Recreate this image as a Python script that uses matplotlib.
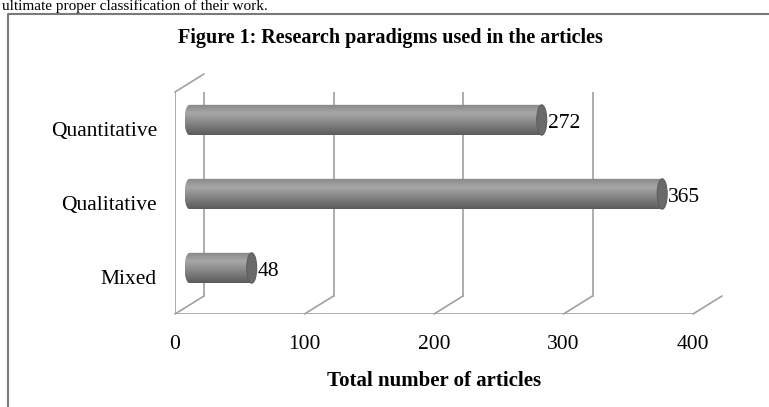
import numpy as np
import matplotlib.pyplot as plt
from matplotlib.transforms import ScaledTranslation
from matplotlib.path import Path
from matplotlib.patches import PathPatch, Ellipse, ConnectionPatch
from matplotlib.lines import Line2D

plt.rcParams['font.family'] = ['Liberation Serif', 'DejaVu Serif']

# datos
categorias = ['Mixed', 'Qualitative', 'Quantitative']
articulos = [48, 365, 272]
marcas_x = [0, 100, 200, 300, 400]
titulo = 'Figure 1: Research paradigms used in the articles'
etiqueta_x = 'Total number of articles'

W, H = 769, 407
fig = plt.figure(figsize=(W / 100, H / 100), dpi=100)

# plano frontal del grafico (en pixeles de la imagen)
x0, x1, y_suelo, y_techo = 175, 693, 314, 92
ax = fig.add_axes([x0 / W, (H - y_suelo) / H, (x1 - x0) / W, (y_suelo - y_techo) / H])
ax.patch.set_alpha(0)
for s in ax.spines.values():
    s.set_visible(False)

def desplaza(dx, dy):
    return ax.transData + ScaledTranslation(dx / 100, dy / 100, fig.dpi_scale_trans)

fondo = desplaza(29, 18)    # pared del fondo
medio = desplaza(14.5, 9)   # profundidad de las barras
gris = '#a0a0a0'
lw = 1.2

# pared del fondo y suelo
for t in marcas_x:
    ax.plot([t, t], [-0.5, 2.5], transform=fondo, color=gris, lw=lw, zorder=1)
    ax.add_artist(ConnectionPatch((t, -0.5), (t, -0.5), ax.transData, fondo,
                                  color=gris, lw=lw, zorder=1))
ax.plot([0, 400], [-0.5, -0.5], color=gris, lw=lw, zorder=1)
# pared izquierda
ax.plot([0, 0], [-0.5, 2.5], color=gris, lw=lw, zorder=1)
ax.add_artist(ConnectionPatch((0, 2.5), (0, 2.5), ax.transData, fondo,
                              color=gris, lw=lw, zorder=1))

# cilindros
alto = 0.41
tapa = 10 / ((x1 - x0) / 400)   # ancho de la tapa en unidades de datos
perfil = np.concatenate([np.linspace(0x88, 0xa6, 12), np.linspace(0xa6, 0x5c, 28)]) / 255
grad = np.repeat(perfil[:, None], 2, axis=1)
grad = np.dstack([grad, grad, grad])

for y, v in zip(range(len(categorias)), articulos):
    th = np.linspace(np.pi / 2, 3 * np.pi / 2, 30)
    pts = np.column_stack([tapa / 2 * np.cos(th), y + alto / 2 * np.sin(th)])
    pts = np.vstack([pts, [[v, y - alto / 2], [v, y + alto / 2], [0, y + alto / 2]]])
    forma = PathPatch(Path(pts), transform=medio, fc='none', ec='none')
    ax.add_patch(forma)
    im = ax.imshow(grad, extent=[-tapa / 2, v, y - alto / 2, y + alto / 2],
                   aspect='auto', interpolation='bilinear', transform=medio, zorder=2)
    im.set_clip_path(forma)
    ax.add_patch(Ellipse((v, y), tapa, alto, transform=medio, fc='#6a6a6a',
                         ec='#5e5e5e', lw=0.8, zorder=3))
    ax.text(v, y, str(v), transform=desplaza(14.5 + 6, 6), ha='left', va='center',
            fontsize=15.5, zorder=4)

ax.set_xlim(0, 400)
ax.set_ylim(-0.5, 2.5)
ax.set_xticks(marcas_x)
ax.set_yticks(range(len(categorias)), categorias)
ax.tick_params(axis='both', length=0, labelsize=15.5)
ax.tick_params(axis='x', pad=15)
ax.tick_params(axis='y', pad=13)
ax.set_xlabel(etiqueta_x, fontsize=15, fontweight='bold', labelpad=12)

fig.text(390 / W, 1 - 38 / H, titulo, ha='center', va='center',
         fontsize=14.5, fontweight='bold')

# marco y texto de la pagina
fig.add_artist(Line2D([8 / W, 8 / W, 1], [0, 1 - 14 / H, 1 - 14 / H],
                      transform=fig.transFigure, color='#7a7a7a', lw=1.5))
fig.text(0.002, 1 - 10 / H, 'ultimate proper classification of their work.', ha='left',
         va='baseline', fontsize=11)

fig.savefig('out.png', dpi=100)
